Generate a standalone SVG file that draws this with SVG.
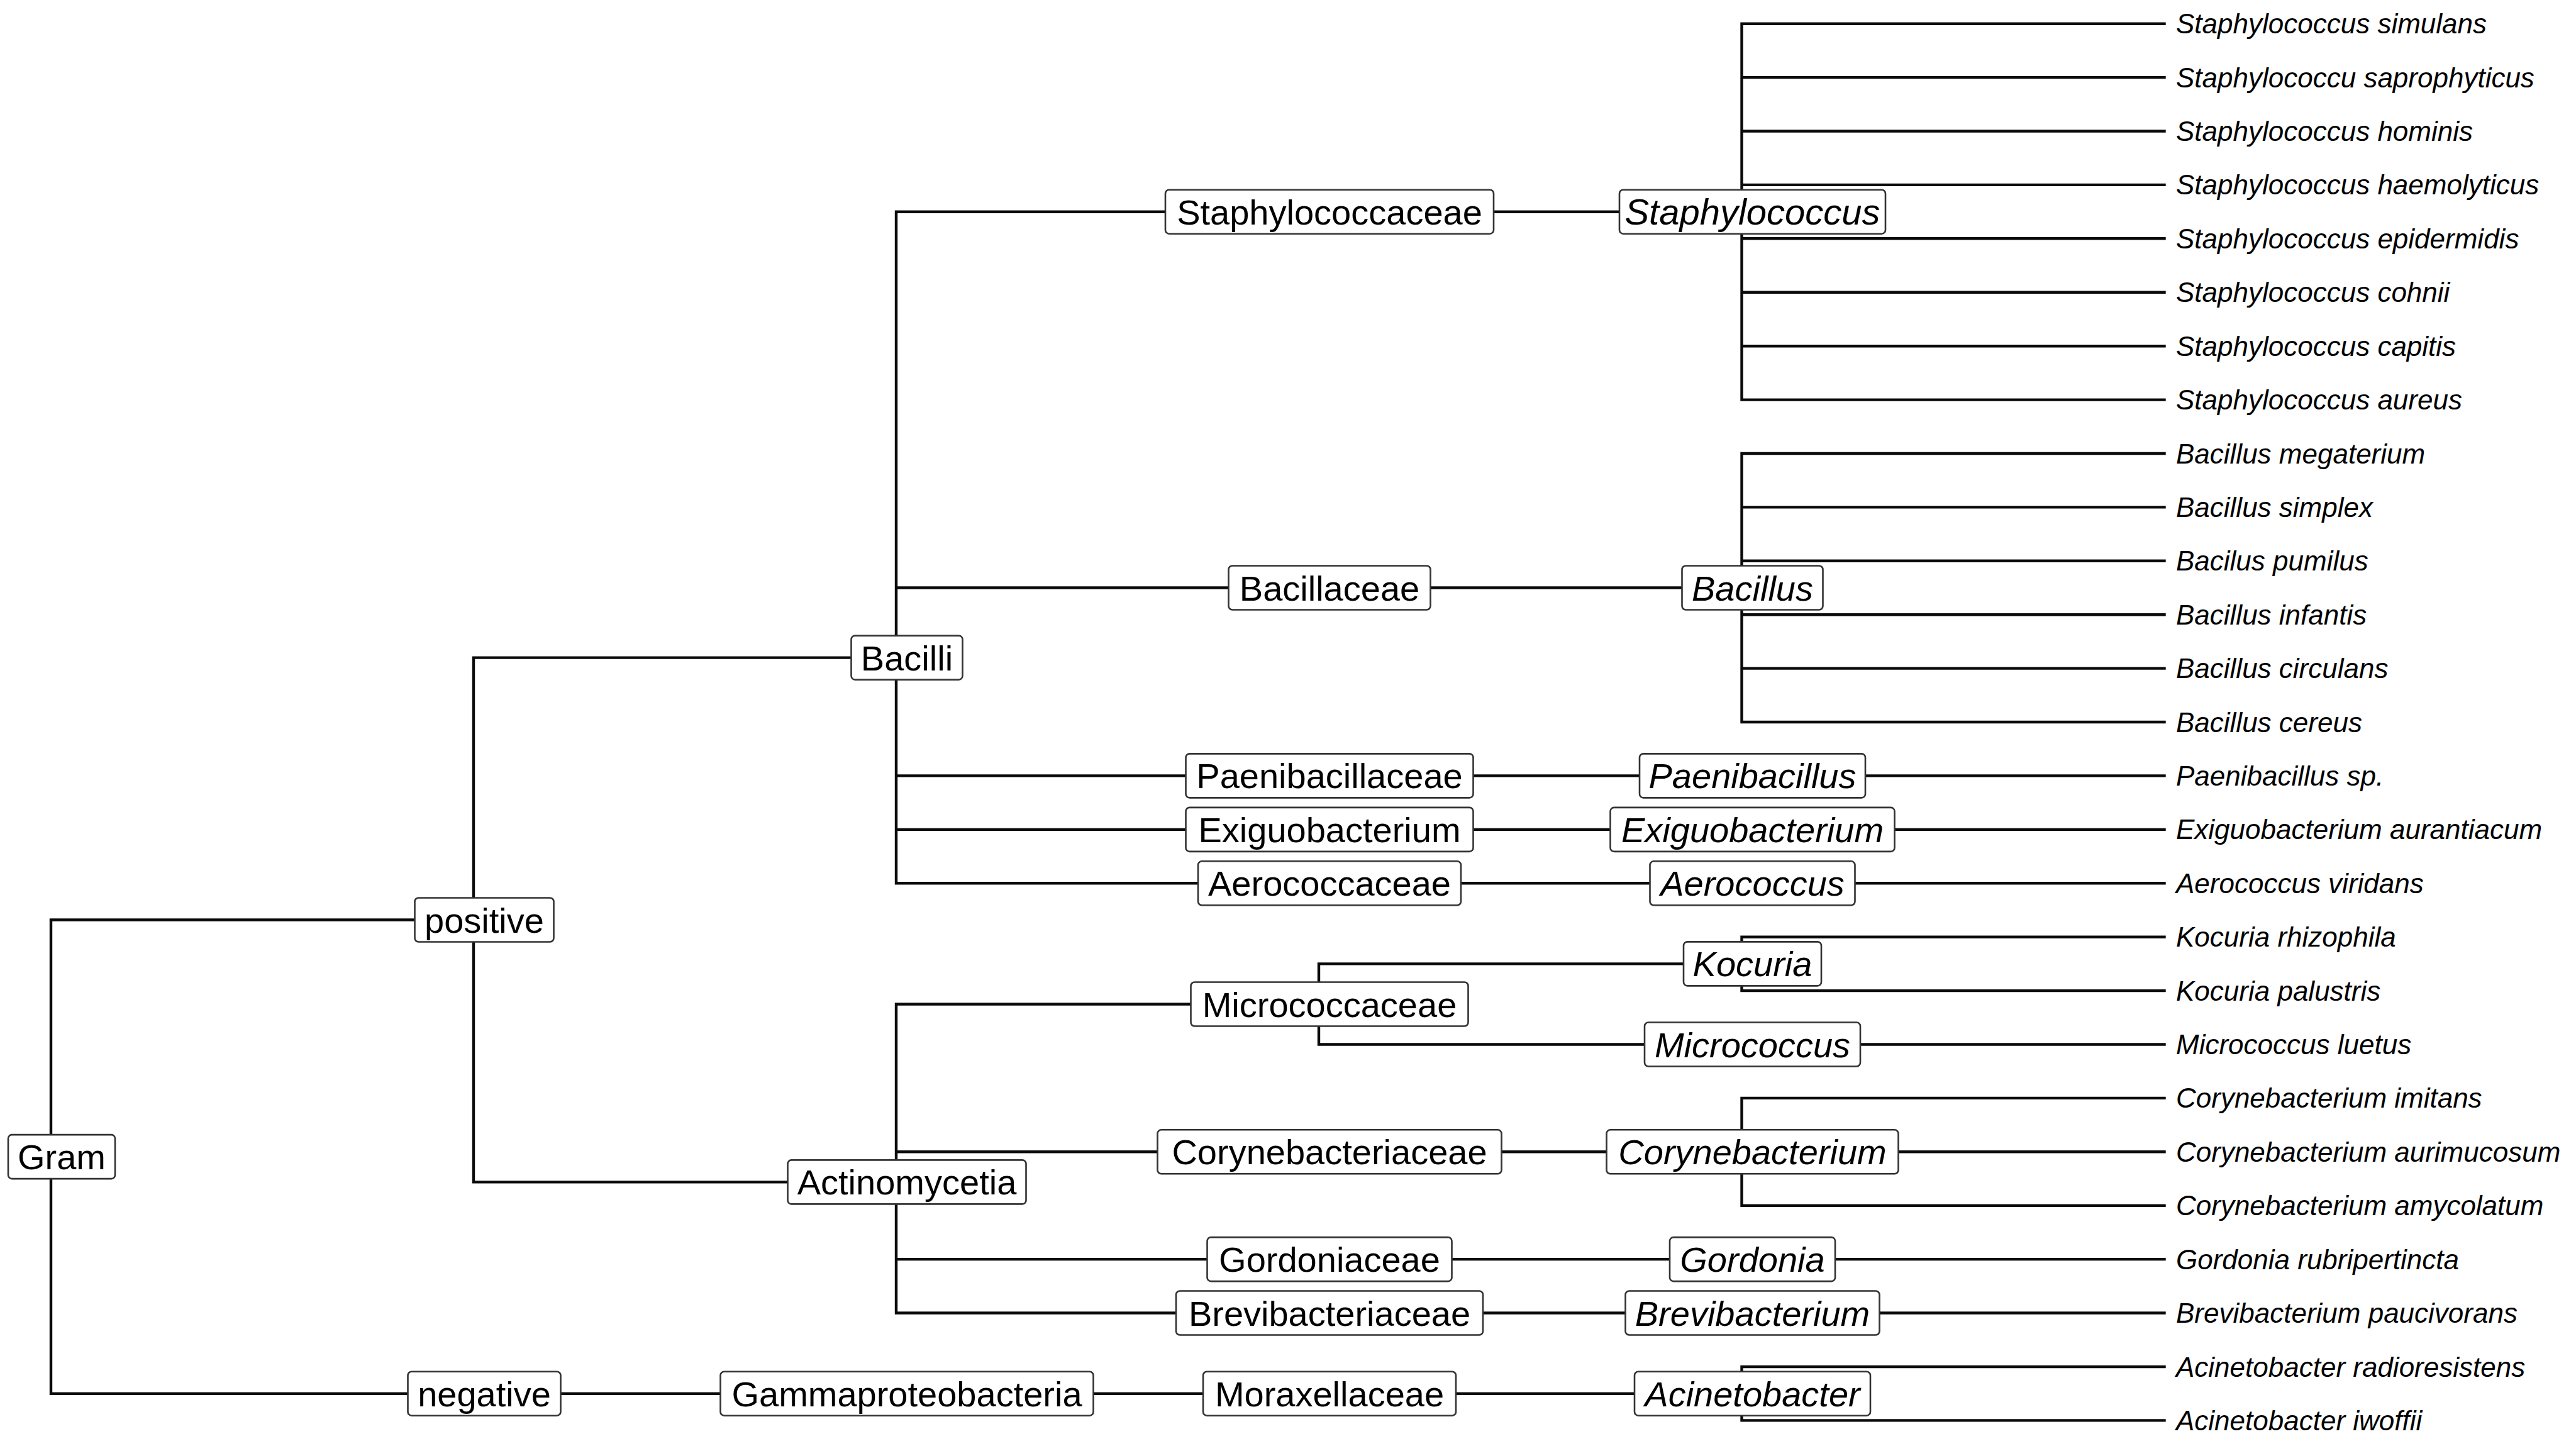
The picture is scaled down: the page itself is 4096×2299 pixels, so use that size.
<svg xmlns="http://www.w3.org/2000/svg" width="4096" height="2299" viewBox="0 0 4096 2299">
<style>
.bg{fill:#ffffff}
.ln{fill:none;stroke:#0a0a0a;stroke-width:4.4;stroke-linecap:square;stroke-linejoin:miter}
.box{fill:#ffffff;stroke:#333333;stroke-width:2.6}
.lb{font-family:"Liberation Sans",Arial,sans-serif;font-size:56px;fill:#000000;text-anchor:middle}
.gn{font-family:"Liberation Sans",Arial,sans-serif;font-size:56px;font-style:italic;fill:#000000;text-anchor:middle}
.sp{font-family:"Liberation Sans",Arial,sans-serif;font-size:44px;font-style:italic;fill:#000000}
</style>
<rect class="bg" x="0" y="0" width="4096" height="2299"/>
<g id="connectors">
<path class="ln" d="M81,1462.5 V2215.7 M81,1462.5 H753 M81,2215.7 H753"/>
<path class="ln" d="M753,1045.6 V1879.4 M753,1045.6 H1425 M753,1879.4 H1425"/>
<path class="ln" d="M753,2215.7 H1425 M1425,2215.7 H2097 M2097,2215.7 H2769.5"/>
<path class="ln" d="M1425,336.7 V1404.3 M1425,336.7 H2097 M1425,934.5 H2097 M1425,1233.4 H2097 M1425,1318.9 H2097 M1425,1404.3 H2097"/>
<path class="ln" d="M1425,1596.5 V2087.5 M1425,1596.5 H2097 M1425,1831.3 H2097 M1425,2002.1 H2097 M1425,2087.5 H2097"/>
<path class="ln" d="M2097,336.7 H2769.5 M2097,934.5 H2769.5 M2097,1233.4 H2769.5 M2097,1318.9 H2769.5 M2097,1404.3 H2769.5 M2097,1831.3 H2769.5 M2097,2002.1 H2769.5 M2097,2087.5 H2769.5"/>
<path class="ln" d="M2097,1532.4 V1660.5 M2097,1532.4 H2769.5 M2097,1660.5 H2769.5"/>
<path class="ln" d="M2769.5,37.7 V635.6 M2769.5,37.7 H3441.5 M2769.5,123.1 H3441.5 M2769.5,208.5 H3441.5 M2769.5,293.9 H3441.5 M2769.5,379.3 H3441.5 M2769.5,464.8 H3441.5 M2769.5,550.2 H3441.5 M2769.5,635.6 H3441.5"/>
<path class="ln" d="M2769.5,721 V1148 M2769.5,721 H3441.5 M2769.5,806.4 H3441.5 M2769.5,891.8 H3441.5 M2769.5,977.2 H3441.5 M2769.5,1062.6 H3441.5 M2769.5,1148 H3441.5"/>
<path class="ln" d="M2769.5,1233.4 H3441.5 M2769.5,1318.9 H3441.5 M2769.5,1404.3 H3441.5"/>
<path class="ln" d="M2769.5,1489.7 V1575.1 M2769.5,1489.7 H3441.5 M2769.5,1575.1 H3441.5"/>
<path class="ln" d="M2769.5,1660.5 H3441.5"/>
<path class="ln" d="M2769.5,1745.9 V1916.7 M2769.5,1745.9 H3441.5 M2769.5,1831.3 H3441.5 M2769.5,1916.7 H3441.5"/>
<path class="ln" d="M2769.5,2002.1 H3441.5 M2769.5,2087.5 H3441.5"/>
<path class="ln" d="M2769.5,2173 V2258.4 M2769.5,2173 H3441.5 M2769.5,2258.4 H3441.5"/>
</g>
<g id="n-gram"><rect class="box" x="13" y="1804.1" width="170" height="70" rx="6"/><text class="lb" x="98" y="1859.1">Gram</text></g>
<g id="n-positive"><rect class="box" x="659.5" y="1427.5" width="221" height="70" rx="6"/><text class="lb" x="770" y="1482.5">positive</text></g>
<g id="n-negative"><rect class="box" x="648.5" y="2180.7" width="243" height="70" rx="6"/><text class="lb" x="770" y="2235.7">negative</text></g>
<g id="n-bacilli"><rect class="box" x="1353.5" y="1010.6" width="177" height="70" rx="6"/><text class="lb" x="1442" y="1065.6">Bacilli</text></g>
<g id="n-actinomycetia"><rect class="box" x="1252.5" y="1844.4" width="379" height="70" rx="6"/><text class="lb" x="1442" y="1899.4">Actinomycetia</text></g>
<g id="n-gammaproteobacteria"><rect class="box" x="1145.5" y="2180.7" width="593" height="70" rx="6"/><text class="lb" x="1442" y="2235.7">Gammaproteobacteria</text></g>
<g id="n-staphylococcaceae"><rect class="box" x="1853" y="301.7" width="522" height="70" rx="6"/><text class="lb" x="2114" y="356.7">Staphylococcaceae</text></g>
<g id="n-bacillaceae"><rect class="box" x="1953.5" y="899.5" width="321" height="70" rx="6"/><text class="lb" x="2114" y="954.5">Bacillaceae</text></g>
<g id="n-paenibacillaceae"><rect class="box" x="1885.5" y="1198.4" width="457" height="70" rx="6"/><text class="lb" x="2114" y="1253.4">Paenibacillaceae</text></g>
<g id="n-exiguobacterium-family"><rect class="box" x="1885.5" y="1283.9" width="457" height="70" rx="6"/><text class="lb" x="2114" y="1338.9">Exiguobacterium</text></g>
<g id="n-aerococcaceae"><rect class="box" x="1905" y="1369.3" width="418" height="70" rx="6"/><text class="lb" x="2114" y="1424.3">Aerococcaceae</text></g>
<g id="n-micrococcaceae"><rect class="box" x="1893.5" y="1561.5" width="441" height="70" rx="6"/><text class="lb" x="2114" y="1616.5">Micrococcaceae</text></g>
<g id="n-corynebacteriaceae"><rect class="box" x="1840.5" y="1796.3" width="547" height="70" rx="6"/><text class="lb" x="2114" y="1851.3">Corynebacteriaceae</text></g>
<g id="n-gordoniaceae"><rect class="box" x="1919.5" y="1967.1" width="389" height="70" rx="6"/><text class="lb" x="2114" y="2022.1">Gordoniaceae</text></g>
<g id="n-brevibacteriaceae"><rect class="box" x="1870" y="2052.5" width="488" height="70" rx="6"/><text class="lb" x="2114" y="2107.5">Brevibacteriaceae</text></g>
<g id="n-moraxellaceae"><rect class="box" x="1913" y="2180.7" width="402" height="70" rx="6"/><text class="lb" x="2114" y="2235.7">Moraxellaceae</text></g>
<g id="n-staphylococcus"><rect class="box" x="2575" y="301.7" width="423" height="70" rx="6"/><text class="gn" x="2786.5" y="357.3" style="font-size:58px">Staphylococcus</text></g>
<g id="n-bacillus"><rect class="box" x="2674.5" y="899.5" width="224" height="70" rx="6"/><text class="gn" x="2786.5" y="954.5">Bacillus</text></g>
<g id="n-paenibacillus"><rect class="box" x="2607" y="1198.4" width="359" height="70" rx="6"/><text class="gn" x="2786.5" y="1253.4">Paenibacillus</text></g>
<g id="n-exiguobacterium"><rect class="box" x="2560.5" y="1283.9" width="452" height="70" rx="6"/><text class="gn" x="2786.5" y="1338.9">Exiguobacterium</text></g>
<g id="n-aerococcus"><rect class="box" x="2623.5" y="1369.3" width="326" height="70" rx="6"/><text class="gn" x="2786.5" y="1424.3">Aerococcus</text></g>
<g id="n-kocuria"><rect class="box" x="2677" y="1497.4" width="219" height="70" rx="6"/><text class="gn" x="2786.5" y="1552.4">Kocuria</text></g>
<g id="n-micrococcus"><rect class="box" x="2615" y="1625.5" width="343" height="70" rx="6"/><text class="gn" x="2786.5" y="1680.5">Micrococcus</text></g>
<g id="n-corynebacterium"><rect class="box" x="2554.5" y="1796.3" width="464" height="70" rx="6"/><text class="gn" x="2786.5" y="1851.3">Corynebacterium</text></g>
<g id="n-gordonia"><rect class="box" x="2655" y="1967.1" width="263" height="70" rx="6"/><text class="gn" x="2786.5" y="2022.1">Gordonia</text></g>
<g id="n-brevibacterium"><rect class="box" x="2584.5" y="2052.5" width="404" height="70" rx="6"/><text class="gn" x="2786.5" y="2107.5">Brevibacterium</text></g>
<g id="n-acinetobacter"><rect class="box" x="2599" y="2180.7" width="375" height="70" rx="6"/><text class="gn" x="2786.5" y="2235.7">Acinetobacter</text></g>
<g id="species">
<text class="sp" x="3460" y="53.2">Staphylococcus simulans</text>
<text class="sp" x="3460" y="138.6">Staphylococcu saprophyticus</text>
<text class="sp" x="3460" y="224">Staphylococcus hominis</text>
<text class="sp" x="3460" y="309.4">Staphylococcus haemolyticus</text>
<text class="sp" x="3460" y="394.8">Staphylococcus epidermidis</text>
<text class="sp" x="3460" y="480.3">Staphylococcus cohnii</text>
<text class="sp" x="3460" y="565.7">Staphylococcus capitis</text>
<text class="sp" x="3460" y="651.1">Staphylococcus aureus</text>
<text class="sp" x="3460" y="736.5">Bacillus megaterium</text>
<text class="sp" x="3460" y="821.9">Bacillus simplex</text>
<text class="sp" x="3460" y="907.3">Bacilus pumilus</text>
<text class="sp" x="3460" y="992.7">Bacillus infantis</text>
<text class="sp" x="3460" y="1078.1">Bacillus circulans</text>
<text class="sp" x="3460" y="1163.5">Bacillus cereus</text>
<text class="sp" x="3460" y="1248.9">Paenibacillus sp.</text>
<text class="sp" x="3460" y="1334.4">Exiguobacterium aurantiacum</text>
<text class="sp" x="3460" y="1419.8">Aerococcus viridans</text>
<text class="sp" x="3460" y="1505.2">Kocuria rhizophila</text>
<text class="sp" x="3460" y="1590.6">Kocuria palustris</text>
<text class="sp" x="3460" y="1676">Micrococcus luetus</text>
<text class="sp" x="3460" y="1761.4">Corynebacterium imitans</text>
<text class="sp" x="3460" y="1846.8">Corynebacterium aurimucosum</text>
<text class="sp" x="3460" y="1932.2">Corynebacterium amycolatum</text>
<text class="sp" x="3460" y="2017.6">Gordonia rubripertincta</text>
<text class="sp" x="3460" y="2103">Brevibacterium paucivorans</text>
<text class="sp" x="3460" y="2188.5">Acinetobacter radioresistens</text>
<text class="sp" x="3460" y="2273.9">Acinetobacter iwoffii</text>
</g>
</svg>
